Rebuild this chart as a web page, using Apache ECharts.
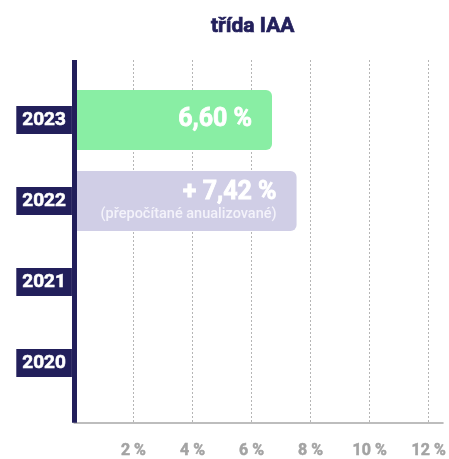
<!DOCTYPE html>
<html>
<head>
<meta charset="utf-8">
<script src="https://cdn.jsdelivr.net/npm/echarts@6/dist/echarts.min.js"></script>
<style>
  html, body { margin: 0; padding: 0; background: #fff; }
  #chart { width: 449px; height: 459px; }
</style>
</head>
<body>
<div id="chart"></div>
<script>
// data
const years = ["2023", "2022", "2021", "2020"];
const returns = [6.60, 7.42, null, null];
const prefixes = ["", "+ ", "", ""];
const notes = ["", "(přepočítané anualizované)", "", ""];
const barColors = ["#89eea4", "#d0cee6", "#d0cee6", "#d0cee6"];

const navy = "#221f5b";
const font = "Roboto";

const chart = echarts.init(document.getElementById("chart"));

const option = {
  animation: false,
  title: {
    text: "třída IAA",
    left: 206,
    top: 11,
    textStyle: {
      fontFamily: font, fontSize: 21, fontWeight: "bold", color: navy,
      textBorderColor: navy, textBorderWidth: 0.7,
    },
  },
  grid: [
    // bars + year labels
    { left: 74.4, right: 15.3, top: 79.5, bottom: 55.5 },
    // frame: gridlines, x labels, axis lines (axis line runs a bit past 12 %)
    { left: 74.4, right: 1, top: 60, bottom: 33.5 },
  ],
  xAxis: [
    { gridIndex: 0, type: "value", min: 0, max: 12, show: false },
    {
      gridIndex: 1,
      type: "value",
      min: 0,
      max: 12.48,
      interval: 2,
      axisLine: { onZero: false, lineStyle: { color: "#bdbdbd", width: 2 } },
      axisTick: { show: false },
      splitLine: { showMaxLine: false, lineStyle: { color: "#b5b5b5", type: [2, 2], width: 1 } },
      axisLabel: {
        margin: 20,
        showMaxLabel: false,
        fontFamily: font,
        fontSize: 16,
        fontWeight: "bold",
        color: "#a3a3a3",
        textBorderColor: "#a3a3a3",
        textBorderWidth: 0.5,
        formatter: (v) => (v === 0 || v % 2 !== 0 ? "" : v + " %"),
      },
    },
  ],
  yAxis: [
    {
      gridIndex: 0,
      type: "category",
      inverse: true,
      data: years,
      axisLine: { show: false },
      axisTick: { show: false },
      axisLabel: {
        margin: 2.5,
        fontFamily: font,
        fontSize: 19,
        fontWeight: "bold",
        color: "#fff",
        textBorderColor: "#fff",
        textBorderWidth: 0.6,
        backgroundColor: navy,
        lineHeight: 28,
        padding: [0, 6],
      },
    },
    {
      gridIndex: 1,
      type: "value",
      z: 5,
      axisLine: { show: true, onZero: false, lineStyle: { color: navy, width: 5, cap: "butt" } },
      axisTick: { show: false },
      axisLabel: { show: false },
      splitLine: { show: false },
    },
  ],
  series: [
    {
      type: "bar",
      xAxisIndex: 0,
      yAxisIndex: 0,
      barWidth: 60,
      data: returns.map((v, i) => ({
        value: v,
        itemStyle: { color: barColors[i], borderRadius: [0, 6, 6, 0] },
      })),
      label: {
        show: true,
        position: "insideRight",
        distance: 20,
        formatter: (p) => {
          const i = p.dataIndex;
          const main = prefixes[i] + p.value.toFixed(2).replace(".", ",") + " %";
          return notes[i] ? "{big|" + main + "}\n{small|" + notes[i] + "}" : "{big|" + main + "}";
        },
        rich: {
          big: {
            fontFamily: font, fontSize: 25, fontWeight: "bold", color: "#fff", align: "right", lineHeight: 26,
            textBorderColor: "#fff", textBorderWidth: 0.8,
          },
          small: { fontFamily: font, fontSize: 14.5, fontWeight: 500, color: "#f3f2fa", align: "right", lineHeight: 17 },
        },
      },
    },
  ],
};

chart.setOption(option);
</script>
</body>
</html>
